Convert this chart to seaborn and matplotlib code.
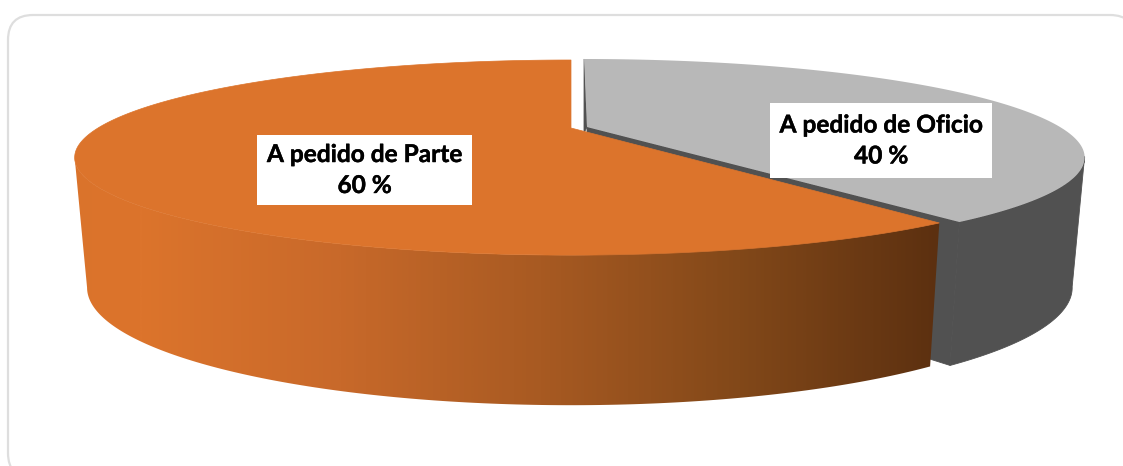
"""Perspective 3D pie: requests by origin, drawn on a pixel-sized canvas."""

import matplotlib.patheffects as pe
import matplotlib.pyplot as plt
import numpy as np
import seaborn as sns
from matplotlib.patches import FancyBboxPatch, Polygon, Rectangle

CATEGORIES = ["A pedido de Parte", "A pedido de Oficio"]
SHARES = [60, 40]

ORANGE = "#DC742C"
GREY_TOP = "#B8B8B8"
GREY_SIDE = "#515151"
SIDE_STOPS = ["#D8722B", "#DC742C", "#C8692A", "#A85A22", "#824819", "#5C3010"]

WIDTH, HEIGHT = 1123, 466

# perspective of the pie disc
K = 0.303
RX, RY = 473, 88.6
BOTTOM_SCALE = 0.975


def rim(theta_deg, cx, cy, shear=0.0):
    t = np.radians(theta_deg)
    u, v = np.cos(t), np.sin(t)
    w = 1 + K * v
    dy = -RY * v / w
    return cx + RX * u / w + shear * dy, cy + dy


def depth(theta_deg):
    # edges nearer the camera look longer
    w = 1 + K * np.sin(np.radians(theta_deg))
    return 64 + 60 / w


def bottom_rim(theta_deg, cx, cy, shear=0.0):
    x, y = rim(theta_deg, cx, cy, shear)
    return cx + (x - cx) * BOTTOM_SCALE, y + depth(theta_deg)


def poly(*parts):
    return np.column_stack(
        [np.concatenate([np.atleast_1d(p[0]) for p in parts]), np.concatenate([np.atleast_1d(p[1]) for p in parts])]
    )


sns.set_theme(style="white")
plt.rcParams["font.family"] = ["Lato", "DejaVu Sans"]

fig = plt.figure(figsize=(WIDTH / 100, HEIGHT / 100), dpi=100)
ax = fig.add_axes([0, 0, 1, 1])
ax.set_xlim(0, WIDTH)
ax.set_ylim(HEIGHT, 0)
ax.axis("off")

ax.add_patch(
    FancyBboxPatch(
        (33, 40), 1077, 413, boxstyle="round,pad=25,rounding_size=25",
        facecolor="white", edgecolor="#DEDEDE", linewidth=1.6, clip_on=True,
    )
)

# slice angles come from the shares, counter-clockwise from the back
turn = 3.6 * SHARES[0]
start = 90.0
end = start + turn
left_sil = 180 + np.degrees(np.arcsin(K))
right_sil = 360 - np.degrees(np.arcsin(K))

# grey slice
g_cx, g_cy, g_shear = 587, 127, 0.043
dark = dict(facecolor=GREY_SIDE, edgecolor=GREY_SIDE, linewidth=0.6, zorder=2)
g_arc = np.linspace(end, right_sil, 80)
ax.add_patch(Polygon(poly(rim(g_arc, g_cx, g_cy, g_shear), bottom_rim(g_arc[::-1], g_cx, g_cy, g_shear)), **dark))
ax.add_patch(Polygon(poly(([g_cx], [g_cy]), rim(np.array([end]), g_cx, g_cy, g_shear),
                          bottom_rim(np.array([end]), g_cx, g_cy, g_shear), ([g_cx], [g_cy + depth(0.0)])), **dark))
ax.add_patch(Polygon(poly(rim(np.array([start]), g_cx, g_cy, g_shear), ([g_cx], [g_cy]), ([g_cx - 3], [g_cy + 6])),
                     **dark))
g_top = np.linspace(start, end - 360, 200)
ax.add_patch(Polygon(poly(([g_cx], [g_cy]), rim(g_top, g_cx, g_cy, g_shear)),
                     facecolor=GREY_TOP, edgecolor="none", zorder=3))

# orange slice
o_cx, o_cy = 571, 128
o_arc = np.linspace(left_sil, end, 150)
side = Polygon(poly(rim(o_arc, o_cx, o_cy), bottom_rim(o_arc[::-1], o_cx, o_cy)),
               facecolor="none", edgecolor="none", zorder=4)
ax.add_patch(side)
cmap = sns.blend_palette(SIDE_STOPS, as_cmap=True)
grad = ax.imshow(np.linspace(0, 1, 512)[None, :], cmap=cmap, extent=(-60, 940, 420, 140),
                 aspect="auto", zorder=4)
grad.set_clip_path(side)
ax.set_xlim(0, WIDTH)
ax.set_ylim(HEIGHT, 0)
o_top = np.linspace(start, end, 300)
ax.add_patch(Polygon(poly(([o_cx], [o_cy]), rim(o_top, o_cx, o_cy)),
                     facecolor=ORANGE, edgecolor=ORANGE, linewidth=0.5, zorder=5))

# labels
boxes = [(257, 135, 215, 70), (770, 103, 222, 75)]
for cat, share, (bx, by, bw, bh) in zip(CATEGORIES, SHARES, boxes):
    ax.add_patch(Rectangle((bx, by), bw, bh, facecolor="white", edgecolor="none", zorder=6))
    label = ax.text(bx + bw / 2, by + bh / 2, f"{cat}\n{share} %", ha="center", va="center", fontsize=17.6,
                    fontweight="bold", color="black", linespacing=1.42, zorder=7)
    label.set_path_effects([pe.withStroke(linewidth=0.3, foreground="black")])

fig.savefig("out.png", dpi=100)
